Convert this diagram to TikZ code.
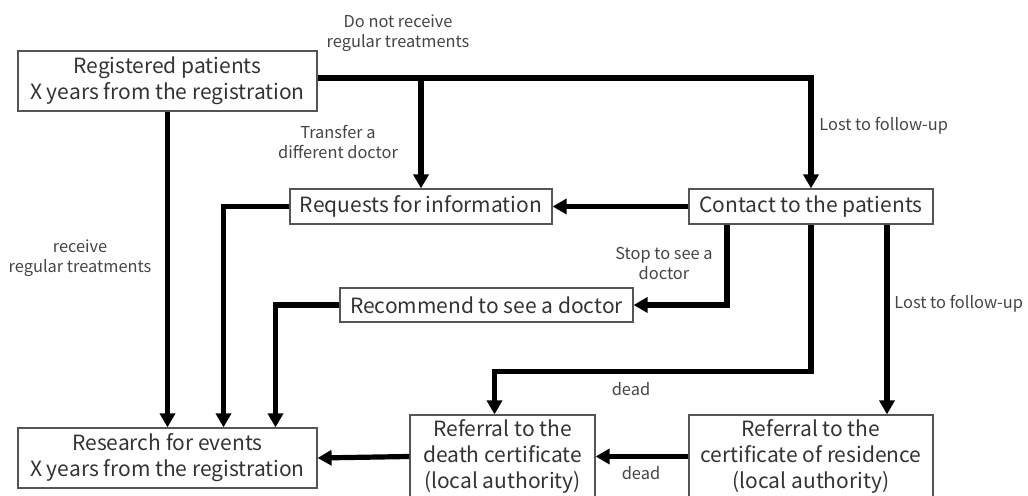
\documentclass[tikz,border=0pt]{standalone}
\usepackage{fontspec}
\setmainfont{Noto Sans CJK JP}
\usepackage{tikz}
\usetikzlibrary{arrows.meta}
\definecolor{boxline}{HTML}{555555}
\definecolor{boxtext}{HTML}{333333}
\definecolor{labeltext}{HTML}{454545}
\tikzset{
  box_/.style   = {shape=rectangle, draw=boxline, line width=0.6pt, align=center,
                   inner sep=0pt, text=boxtext, font=\fontsize{10.5}{13}\selectfont},
  label_/.style = {align=center, inner sep=0pt, text=labeltext,
                   font=\fontsize{8.2}{10}\selectfont},
  flow_/.style  = {draw, line width=2.6pt, -{Triangle[width=7.5pt,length=7pt]}}
}

\begin{document}
\begin{tikzpicture}
  [
    x = 0.5pt,
    y = -0.5pt
  ]
  \useasboundingbox (0,0) rectangle (1028,496);
  \clip (0,0) rectangle (1028,496);

  % boxes
  \node [box_, minimum width=149.5pt, minimum height=30pt] (reg) at (167.5,81)
    {Registered patients\\X years from the registration};
  \node [box_, minimum width=131pt, minimum height=17.5pt] (req) at (421,206.5)
    {Requests for information};
  \node [box_, minimum width=122pt, minimum height=17.5pt] (contact) at (811,206.5)
    {Contact to the patients};
  \node [box_, minimum width=146.5pt, minimum height=17pt] (rec) at (486.5,305)
    {Recommend to see a doctor};
  \node [box_, minimum width=149.5pt, minimum height=30pt] (res) at (167.5,458)
    {Research for events\\X years from the registration};
  \node [box_, minimum width=92.5pt, minimum height=41.5pt] (death) at (502.5,456.5)
    {Referral to the\\death certificate\\(local authority)};
  \node [box_, minimum width=122pt, minimum height=41.5pt] (resid) at (811,456.5)
    {Referral to the\\certificate of residence\\(local authority)};

  % labels
  \node [label_] (l_notreg) at (398,33) {Do not receive\\regular treatments};
  \node [label_] (l_transfer) at (338,141.5) {Transfer a\\different doctor};
  \node [label_, anchor=west] (l_lost1) at (819,126) {Lost to follow-up};
  \node [label_] (l_reg) at (80,258) {receive\\regular treatments};
  \node [label_] (l_stop) at (664,263.5) {Stop to see a\\doctor};
  \node [label_, anchor=west] (l_lost2) at (894,304) {Lost to follow-up};
  \node [label_] (l_dead1) at (631,389) {dead};
  \node [label_] (l_dead2) at (641,473) {dead};

  % connectors
  \coordinate (split) at ([yshift=1.5pt]reg.east);
  \draw [flow_] (split) -| (contact.north);
  \draw [flow_] (req.north |- split) -- (req.north);
  \draw [flow_] (reg.south) -- (res.north);
  \draw [flow_] (req.west) -| ([xshift=28pt]res.north);
  \draw [flow_] (rec.west) -| ([xshift=54pt]res.north);
  \draw [flow_] (contact.west) -- (req.east);
  \draw [flow_] ([xshift=-42pt]contact.south) |- (rec.east);
  \draw [flow_] (contact.south) -- ++(0,147) -| ([xshift=-4pt]death.north);
  \draw [flow_] ([xshift=38pt]contact.south) -- ([xshift=38pt]resid.north);
  \draw [flow_] (resid.west) -- (death.east);
  \draw [flow_] (death.west) -- (res.east);
\end{tikzpicture}
\end{document}
